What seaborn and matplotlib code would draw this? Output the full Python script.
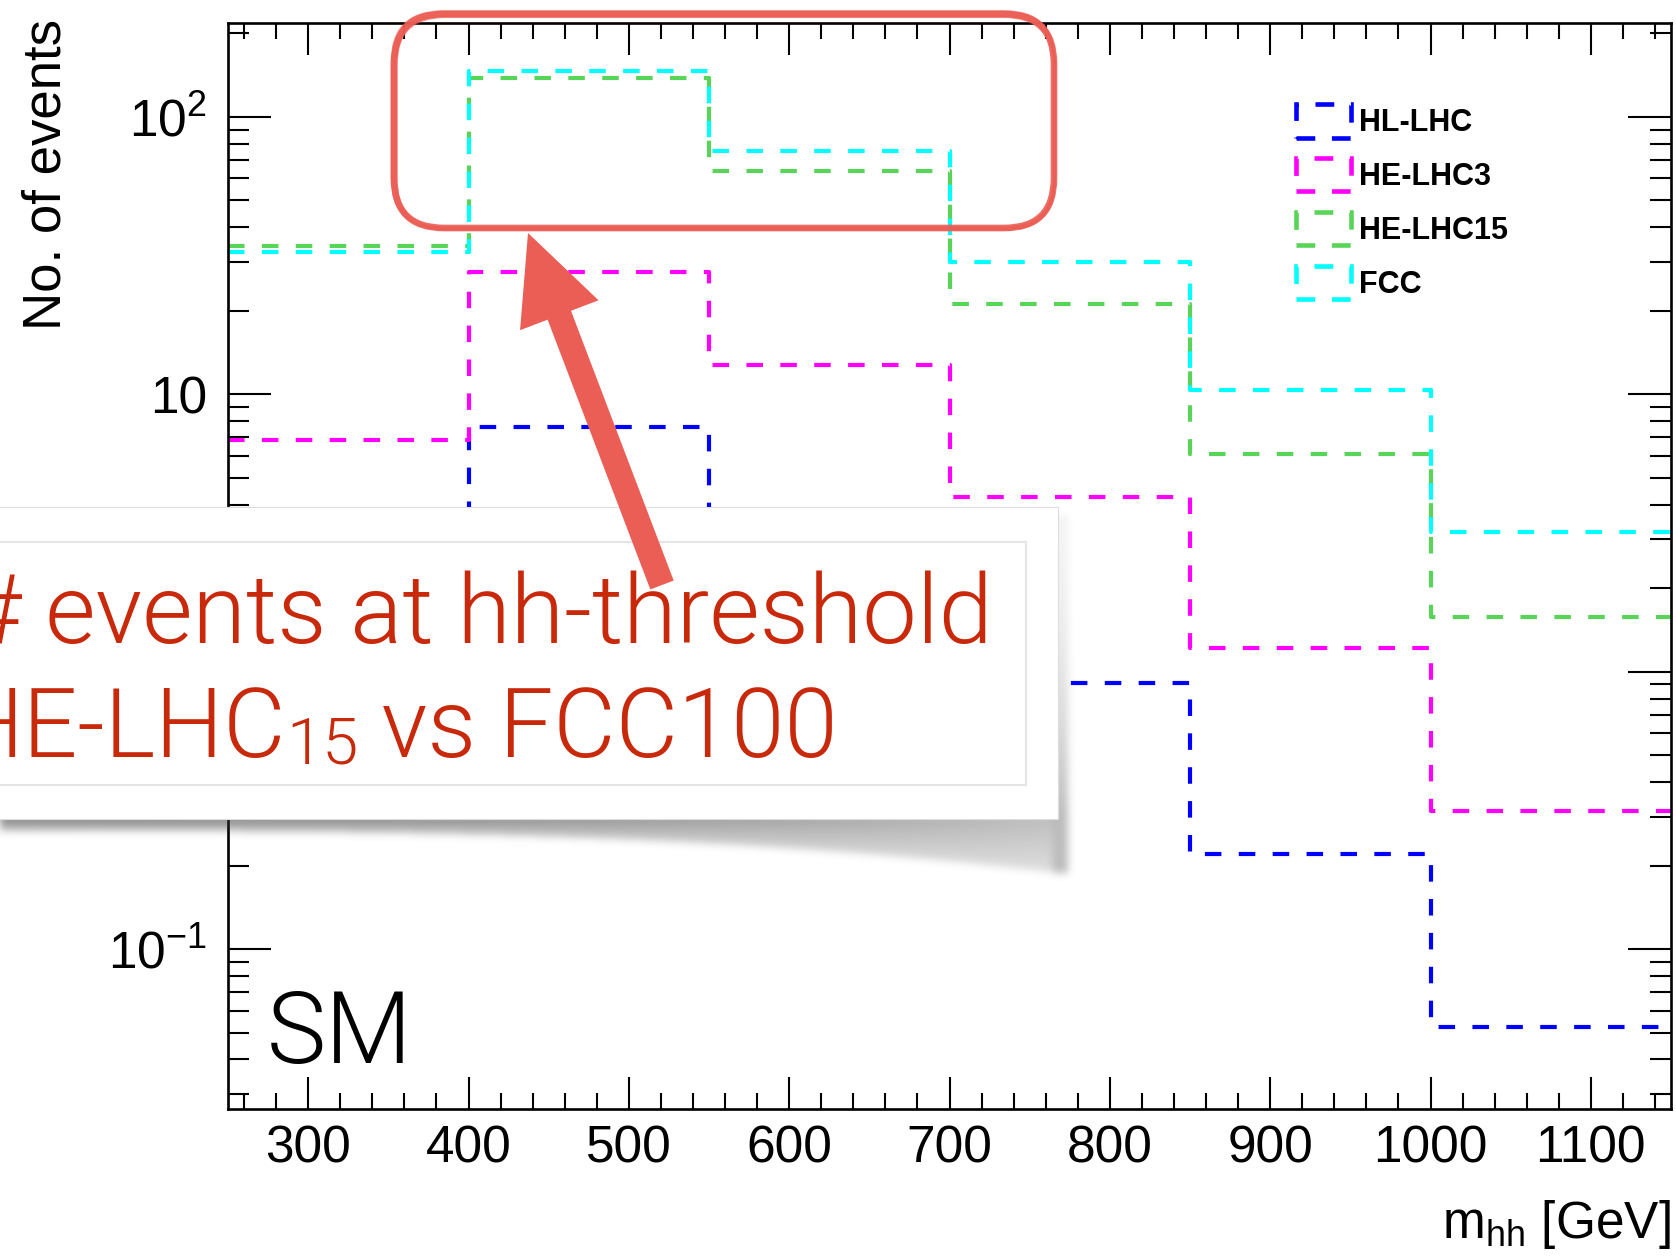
import os
import numpy as np
import pandas as pd
import matplotlib
matplotlib.use("Agg")
import matplotlib.pyplot as plt
import seaborn as sns
from matplotlib import font_manager as fm
from matplotlib.font_manager import FontProperties
from matplotlib.patches import Patch, Rectangle, FancyBboxPatch, FancyArrow
from matplotlib.ticker import MultipleLocator, LogLocator, NullFormatter

# ---------------- data ----------------
bin_edges = [250, 400, 550, 700, 850, 1000, 1150]
colliders = ["HL-LHC", "HE-LHC3", "HE-LHC15", "FCC"]
hl_lhc = [2.1, 7.65, 3.2, 0.91, 0.22, 0.0525]
he_lhc3 = [6.85, 27.6, 12.7, 4.25, 1.22, 0.314]
he_lhc15 = [34.1, 138.6, 63.6, 21.2, 6.1, 1.58]
fcc = [32.5, 146.0, 75.2, 30.0, 10.4, 3.2]
series = [hl_lhc, he_lhc3, he_lhc15, fcc]
colors = ["#0000ff", "#ff00ff", "#58d558", "#00ffff"]
x_ticks = [300, 400, 500, 600, 700, 800, 900, 1000, 1100]
y_ticks = [0.1, 1, 10, 100]
y_tick_labels = [r"$10^{-1}$", "1", "10", r"$10^{2}$"]
callout_line1 = "# events at hh-threshold"
callout_parts2 = ["HE-LHC", "15", " vs FCC100"]

# ---------------- style ----------------
sns.set_style("ticks")
plt.rcParams["font.family"] = ["Liberation Sans", "DejaVu Sans"]
plt.rcParams["mathtext.fontset"] = "custom"
plt.rcParams["mathtext.rm"] = "Liberation Sans"
plt.rcParams["mathtext.it"] = "Liberation Sans:italic"
plt.rcParams["mathtext.bf"] = "Liberation Sans:bold"
plt.rcParams["mathtext.default"] = "regular"
plt.rcParams["lines.scale_dashes"] = False
plt.rcParams["axes.linewidth"] = 1.9
for key in ["text.color", "axes.labelcolor", "xtick.color", "ytick.color",
            "xtick.labelcolor", "ytick.labelcolor", "axes.edgecolor"]:
    plt.rcParams[key] = "black"


def find_light_font():
    prefs = ["roboto", "lato", "open sans", "inter", "noto sans"]
    bad = ["condensed", "narrow", "semi", "mono", "slab", "serif", "display", "cjk", "flex"]
    cands = []
    for f in fm.fontManager.ttflist:
        base = os.path.basename(f.fname).lower()
        nm = f.name.lower()
        if any(b in nm or b in base for b in bad):
            continue
        w = f.weight
        if isinstance(w, str):
            w = fm.weight_dict.get(w, 400)
        idx = None
        for i, p in enumerate(prefs):
            if nm == p or nm == p + " light":
                idx = i
                break
        if idx is None or "italic" in base or f.style != "normal":
            continue
        is_light = (250 <= w <= 350) or (
            "light" in base and "extralight" not in base and "ultralight" not in base)
        if is_light:
            cands.append((idx, f.fname))
    if cands:
        cands.sort()
        return cands[0][1]
    return None


light_path = find_light_font()


def light(size):
    if light_path:
        return FontProperties(fname=light_path, size=size)
    return FontProperties(family="Liberation Sans", size=size)


W, H = 1676, 1256
fig = plt.figure(figsize=(W / 100, H / 100), dpi=100)
ax = fig.add_axes([228 / W, 1 - 1109 / H, (1671 - 228) / W, (1109 - 23) / H])

centers = [(a + b) / 2 for a, b in zip(bin_edges[:-1], bin_edges[1:])]
for name, vals, c in zip(colliders, series, colors):
    df = pd.DataFrame({"m_hh": centers, "events": vals})
    sns.histplot(data=df, x="m_hh", weights="events", bins=bin_edges,
                 element="step", fill=False, color=c, linewidth=3.0,
                 linestyle=(0, (11.9, 12.5)), ax=ax)

ax.set_xlabel("")
ax.set_ylabel("")
ax.set_yscale("log")
ax.set_xlim(bin_edges[0], bin_edges[-1])
ax.set_ylim(0.0265, 218)
ax.set_xticks(x_ticks)
ax.xaxis.set_minor_locator(MultipleLocator(20))
ax.set_yticks(y_ticks, labels=y_tick_labels)
ax.yaxis.set_minor_locator(LogLocator(base=10, subs=np.arange(2, 10), numticks=30))
ax.yaxis.set_minor_formatter(NullFormatter())
for s in ax.spines.values():
    s.set_visible(True)
    s.set_color("black")
ax.tick_params(which="both", direction="in", top=True, right=True,
               width=1.5, color="black", labelcolor="black")
ax.tick_params(axis="x", which="major", length=23, pad=11, labelsize=37)
ax.tick_params(axis="x", which="minor", length=11.5)
ax.tick_params(axis="y", which="major", length=31, pad=15, labelsize=37)
ax.tick_params(axis="y", which="minor", length=15)

handles = [Patch(facecolor="none", edgecolor=c, linewidth=3.3,
                 linestyle=(0, (13.5, 12.0))) for c in colors]
ax.legend(handles=handles, labels=colliders, loc="upper left",
          bbox_to_anchor=(1296 / W, 1 - 104 / H), bbox_transform=fig.transFigure,
          frameon=False, prop=FontProperties(family="Liberation Sans", weight="bold", size=22),
          handlelength=1.8, handleheight=1.31, handletextpad=0.27,
          labelspacing=0.65, borderpad=0, borderaxespad=0, labelcolor="black")

fig.text(72 / W, 1 - 19 / H, "No. of events", rotation=90, ha="right", va="top",
         fontsize=38, color="black")
fig.text(1671 / W, 1 - 1238 / H, r"m$_{\mathregular{hh}}$ [GeV]", ha="right",
         va="baseline", fontsize=37, color="black")
fig.text(267 / W, 1 - 1063 / H, "SM", ha="left", va="baseline", fontproperties=light(72),
         color="black")

# ---------------- overlay annotations (pixel coordinates) ----------------
ov = fig.add_axes([0, 0, 1, 1], zorder=10)
ov.set_facecolor("none")
ov.patch.set_alpha(0)

red = "#eb5e55"
# hand-drawn rounded rectangle (several slightly offset strokes)
for dx, dy, dw, dh, lw, al in [(0, 0, 0, 0, 4.8, 0.9), (1.5, -1.0, -1, 1, 2.2, 0.6),
                               (-1.8, 1.8, 2, -2, 1.8, 0.6), (0.8, 2.8, 0, -1, 1.5, 0.5),
                               (-2.4, -2.2, 3, 2, 1.4, 0.5), (3.0, 0.8, -2, 1, 1.2, 0.45),
                               (-0.6, -3.2, 1, 4, 1.2, 0.45), (2.0, 3.4, -3, -2, 1.0, 0.4)]:
    ov.add_patch(FancyBboxPatch((394 + dx, 14 + dy), 660 + dw, 214 + dh,
                                boxstyle="round,pad=0,rounding_size=50",
                                fc="none", ec=red, lw=lw, alpha=al, zorder=1))

# callout shadow
box_r, box_b, box_t = 1058, 819, 507
x0, x1, y0, y1 = 0, 1110, 480, 910
xs = np.arange(x0, x1) + 0.5
ys = np.arange(y0, y1) + 0.5
X, Y = np.meshgrid(xs, ys)
fx = np.clip(X, 0, box_r) / box_r
depth = 12 + 42 * fx ** 3
dark = 0.6 - 0.28 * fx ** 2
inside = (Y >= box_b - 6) & (Y <= box_b + depth) & (X <= box_r + 6)
alpha = np.where(inside, dark * (1 - 0.5 * np.clip((Y - box_b) / depth, 0, 1)), 0.0)
strip = (X > box_r - 6) & (X <= box_r + 9) & (Y >= box_t + 8) & (Y <= box_b + depth)
alpha = np.maximum(alpha, np.where(strip, 0.06 + 0.28 * np.clip((Y - box_t) / (box_b - box_t), 0, 1) ** 2, 0.0))
sig = 4.0
kx = np.arange(-12, 13)
k = np.exp(-kx ** 2 / (2 * sig ** 2))
k /= k.sum()
alpha = np.apply_along_axis(lambda r: np.convolve(r, k, mode="same"), 1, alpha)
alpha = np.apply_along_axis(lambda r: np.convolve(r, k, mode="same"), 0, alpha)
rgba = np.zeros(alpha.shape + (4,))
rgba[..., :3] = 0.22
rgba[..., 3] = np.clip(alpha, 0, 1)
ov.imshow(rgba, extent=(x0, x1, y1, y0), origin="upper", interpolation="bilinear",
          aspect="auto", zorder=2)

ov.add_patch(Rectangle((-20, box_t), box_r + 20, box_b - box_t, fc="white",
                       ec="#dddddd", lw=0.8, zorder=3))
ov.add_patch(Rectangle((-20, 542), 1046, 243, fc="none", ec="#e4e4e4", lw=1.5, zorder=4))

txt_red = "#c9290b"
ov.text(993, 643, callout_line1, ha="right", va="baseline", color=txt_red,
        fontproperties=light(70), zorder=5)
t3 = ov.text(838, 757, callout_parts2[2], ha="right", va="baseline", color=txt_red,
             fontproperties=light(69), zorder=5)
t2 = ov.annotate(callout_parts2[1], xy=(0, 0), xycoords=t3, ha="right", va="bottom",
                 color=txt_red, fontproperties=light(47), zorder=5)
ov.annotate(callout_parts2[0], xy=(0, 0), xycoords=t2, ha="right", va="bottom",
            color=txt_red, fontproperties=light(69), zorder=5)

ov.add_patch(FancyArrow(662, 585, 528 - 662, 233 - 585, width=25, head_width=84,
                        head_length=88, length_includes_head=True, fc=red, ec="none",
                        zorder=6))

ov.set_xlim(0, W)
ov.set_ylim(H, 0)
ov.axis("off")

fig.savefig("out.png", dpi=100)
